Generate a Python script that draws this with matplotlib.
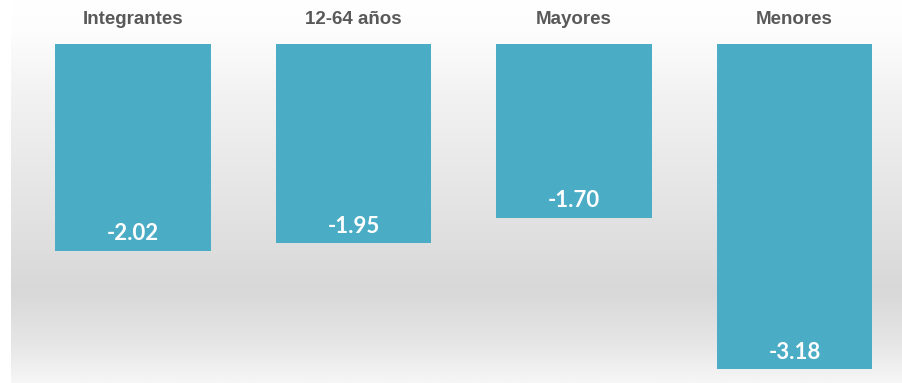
import numpy as np
import matplotlib
matplotlib.use("Agg")
import matplotlib.pyplot as plt
from matplotlib.colors import LinearSegmentedColormap

# Datos del gráfico
categorias = ["Integrantes", "12-64 años", "Mayores", "Menores"]
valores = [-2.02, -1.95, -1.70, -3.18]

W, H, DPI = 903, 383, 100
fig = plt.figure(figsize=(W / DPI, H / DPI), dpi=DPI)
fig.patch.set_facecolor("white")

# Fondo degradado (blanco arriba, gris al centro-bajo, claro abajo)
bg = fig.add_axes([11 / W, 0, 1 - 11 / W, 1], zorder=0)
cmap = LinearSegmentedColormap.from_list(
    "fondo",
    [(0.0, "#ffffff"), (0.08, "#fdfdfd"), (0.25, "#f2f2f2"),
     (0.55, "#e3e3e3"), (0.76, "#d8d8d8"), (0.9, "#e6e6e6"), (1.0, "#f6f6f6")],
)
grad = np.linspace(0, 1, 256).reshape(-1, 1)
bg.imshow(grad, aspect="auto", cmap=cmap, extent=[0, 1, 0, 1], origin="upper")
bg.axis("off")

# Ejes principales
ax = fig.add_axes([0, 0, 1, 1], zorder=1)
ax.patch.set_alpha(0)
x = np.arange(len(categorias))
barras = ax.bar(x, valores, width=0.707, color="#4BACC6", zorder=2)

ax.set_xlim(-0.603, 3.492)
ax.set_ylim(-3.314, 0.430)
ax.axis("off")

for xi, v, cat in zip(x, valores, categorias):
    # etiqueta de categoría encima de la barra
    ax.annotate(cat, (xi, 0), xytext=(0, 24 * 72 / DPI), textcoords="offset points",
                ha="center", va="center", fontsize=13.5, fontweight="bold",
                color="#595959", family="Liberation Sans")
    # valor dentro de la barra, cerca del extremo inferior
    ax.annotate(f"{v:.2f}", (xi, v), xytext=(0, 17 * 72 / DPI), textcoords="offset points",
                ha="center", va="center", fontsize=16, fontweight="bold",
                color="white", family="Lato")

fig.savefig("out.png", dpi=DPI)
